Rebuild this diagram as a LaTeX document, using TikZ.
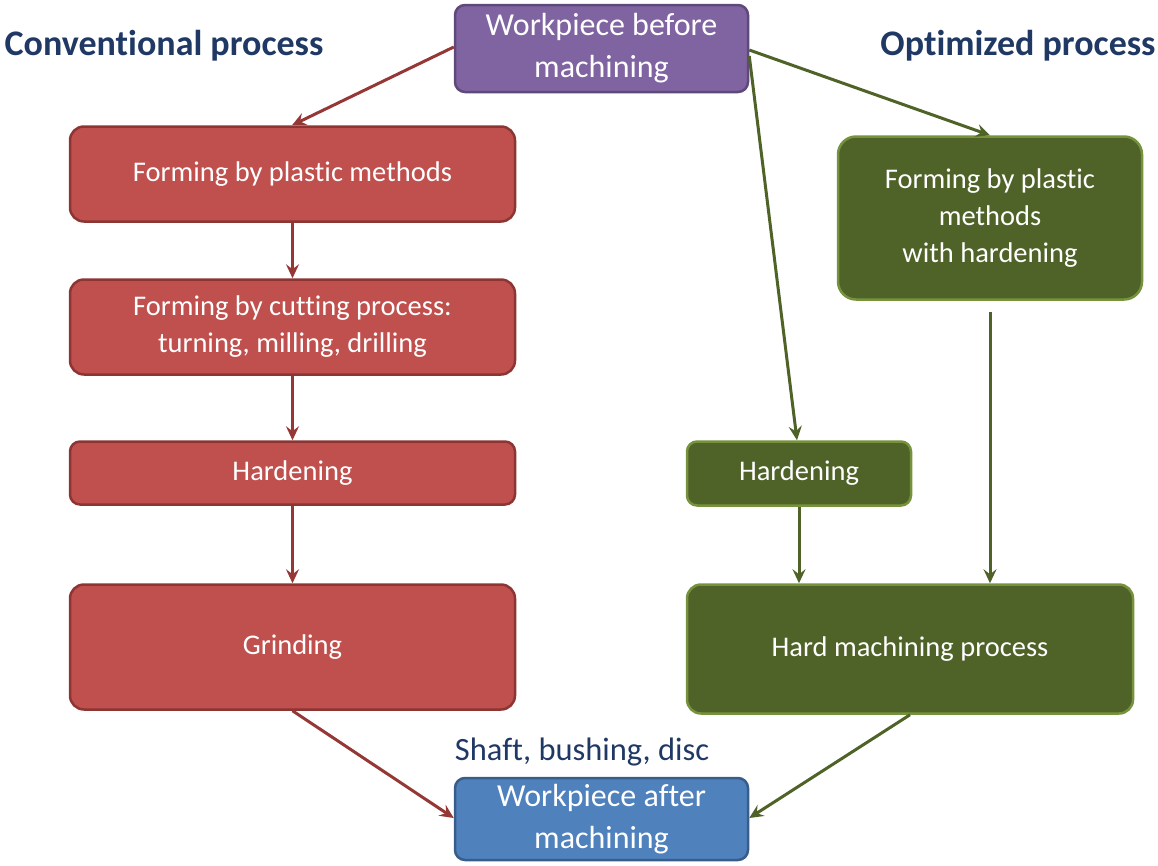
\documentclass[tikz,border=0pt]{standalone}
\usepackage{fontspec}
\setmainfont{Carlito}[Ligatures=NoCommon]
\usetikzlibrary{arrows.meta}
\definecolor{redfill}{HTML}{C0504D}
\definecolor{redline}{HTML}{8C3533}
\definecolor{redarrow}{HTML}{953735}
\definecolor{grfill}{HTML}{4F6228}
\definecolor{grline}{HTML}{76923C}
\definecolor{grarrow}{HTML}{4F6228}
\definecolor{pufill}{HTML}{8064A2}
\definecolor{puline}{HTML}{5F497A}
\definecolor{blfill}{HTML}{4F81BD}
\definecolor{blline}{HTML}{385D8A}
\definecolor{navy}{HTML}{1F3864}
\tikzset{
  box/.style={rounded corners=14pt, line width=2.5pt, text=white, align=center, inner sep=0pt, font=\fontsize{28.5}{37}\selectfont},
  redbox/.style={box, fill=redfill, draw=redline},
  grbox/.style={box, fill=grfill, draw=grline},
  endbox/.style={rounded corners=10pt, line width=2.5pt, text=white, align=center, inner sep=0pt, font=\fontsize{32}{42}\selectfont},
  redarr/.style={draw=redarrow, line width=3pt, -{Stealth[length=14pt,width=13pt,inset=5pt]}},
  grarr/.style={draw=grarrow, line width=3pt, -{Stealth[length=14pt,width=13pt,inset=5pt]}},
  title/.style={text=navy, font=\bfseries\fontsize{36}{42}\selectfont},
}
\begin{document}
\begin{tikzpicture}[x=1pt,y=-1pt]
\useasboundingbox (0,0) rectangle (1158,865);
% top and bottom
\node[endbox, fill=pufill, draw=puline, minimum width=293pt, minimum height=87pt] (top) at (601.5,48.5) {Workpiece before\\machining};
\node[endbox, fill=blfill, draw=blline, minimum width=293pt, minimum height=82pt] (bot) at (601.5,819) {Workpiece after\\machining};
\node[text=navy, font=\fontsize{32.5}{38}\selectfont] (shaft) at (582,752) {Shaft, bushing, disc};
\node[title] (conv) at (164,46) {Conventional process};
\node[title] (opt) at (1018,46) {Optimized process};
% conventional
\node[redbox, minimum width=445pt, minimum height=95pt] (r1) at (292.5,174) {Forming by plastic methods};
\node[redbox, minimum width=445pt, minimum height=95pt] (r2) at (292.5,327) {Forming by cutting process:\\turning, milling, drilling};
\node[redbox, rounded corners=10pt, minimum width=445pt, minimum height=63pt] (r3) at (292.5,473) {Hardening};
\node[redbox, minimum width=445pt, minimum height=125pt] (r4) at (292.5,647) {Grinding};
% optimized
\node[grbox, rounded corners=18pt, minimum width=304pt, minimum height=163pt] (g1) at (990,218) {Forming by plastic\\methods\\with hardening};
\node[grbox, rounded corners=10pt, minimum width=224pt, minimum height=64pt] (g2) at (799,473.5) {Hardening};
\node[grbox, minimum width=446pt, minimum height=129pt] (g3) at (910,649) {Hard machining process};
% arrows
\draw[redarr] (top.west |- 0,47) -- (r1.north -| 292,0);
\draw[redarr] (r1.south) -- (r2.north);
\draw[redarr] (r2.south) -- (r3.north);
\draw[redarr] (r3.south) -- (r4.north);
\draw[redarr] (r4.south) -- (bot.west |- 0,818);
\draw[grarr] (top.east |- 0,50) -- (g1.north);
\draw[grarr] (top.east |- 0,56) -- (g2.north -| 797,0);
\draw[grarr] (g2.south) -- (g3.north -| 799,0);
\coordinate (g1s) at (990,312);
\draw[grarr] (g1s) -- (g3.north -| 990,0);
\draw[grarr] (g3.south) -- (bot.east |- 0,818);
\end{tikzpicture}
\end{document}
